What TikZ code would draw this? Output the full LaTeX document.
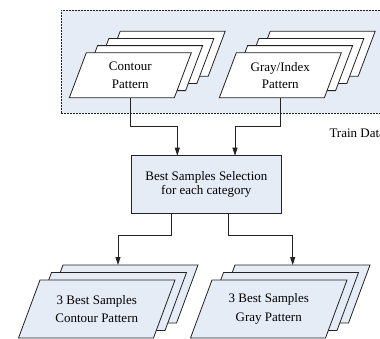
\documentclass[tikz,border=0pt]{standalone}
\usepackage{fontspec}
\setmainfont{Liberation Serif}
\usetikzlibrary{arrows.meta}
\definecolor{paleblue}{HTML}{E6ECF6}
\definecolor{linegray}{HTML}{222222}
\tikzset{
 paraline/.style={draw=linegray, line width=0.8pt},
 paratext/.style={inner sep=0pt, outer sep=0pt, align=center},
 topfont/.style={font=\fontsize{13}{17.5}\selectfont},
 botfont/.style={font=\fontsize{13}{18.5}\selectfont},
 selbox/.style={draw=linegray, line width=0.8pt, fill=paleblue, minimum width=150.7pt, minimum height=57.6pt, inner sep=0pt, outer sep=0pt, align=center, font=\fontsize{13}{14.5}\selectfont},
 arr/.style={draw=linegray, line width=0.8pt, -{Triangle[length=8pt,width=5pt]}},
 trainbox/.style={draw=linegray, dash pattern=on 2pt off 1pt, line width=0.7pt, fill=paleblue, minimum width=330pt, minimum height=103pt, inner sep=0pt, outer sep=0pt}
}
% #1 name, #2 x, #3 y, #4 top width, #5 height, #6 skew, #7 fill, #8 font style, #9 text
\newcommand\myparal[9]{%
 \filldraw[paraline, fill=#7] ({#2-#4/2-#6/2},{#3+#5/2}) -- ({#2+#4/2-#6/2},{#3+#5/2}) -- ({#2+#4/2+#6/2},{#3-#5/2}) -- ({#2-#4/2+#6/2},{#3-#5/2}) -- cycle;
 \node[paratext, #8, minimum width=#4pt, minimum height=#5pt] (#1) at (#2,#3) {#9};
}
\begin{document}
\begin{tikzpicture}[x=1pt,y=-1pt]
\useasboundingbox (0,0) rectangle (380,338);
\clip (0,0) rectangle (380,338);
\node[trainbox, anchor=north west] (train) at (61,10) {};
% contour stack
\myparal{c4}{164.2}{53.7}{105}{45}{17}{white}{topfont}{}
\myparal{c3}{152.9}{60.9}{105}{45}{17}{white}{topfont}{}
\myparal{c2}{141.6}{68.1}{105}{45}{17}{white}{topfont}{}
\myparal{c1}{130.3}{75.3}{105}{45}{17}{white}{topfont}{Contour\\Pattern}
% gray stack
\myparal{g4}{314.2}{53.7}{105}{45}{17}{white}{topfont}{}
\myparal{g3}{302.9}{60.9}{105}{45}{17}{white}{topfont}{}
\myparal{g2}{291.6}{68.1}{105}{45}{17}{white}{topfont}{}
\myparal{g1}{280.3}{75.3}{105}{45}{17}{white}{topfont}{Gray/Index\\Pattern}
\node[anchor=base west, font=\fontsize{13}{15}\selectfont, inner sep=0pt] (tl) at (329.3,137.3) {Train Data};
% selection box
\node[selbox] (box) at (206.35,184.5) {Best Samples Selection\\for each category};
% bottom stacks
\myparal{l3}{119.75}{294}{135}{58}{21.5}{paleblue}{botfont}{}
\myparal{l2}{108.25}{301.5}{135}{58}{21.5}{paleblue}{botfont}{}
\myparal{l1}{96.75}{309}{135}{58}{21.5}{paleblue}{botfont}{3 Best Samples\\Contour Pattern}
\myparal{r3}{291.75}{294}{135}{58}{21.5}{paleblue}{botfont}{}
\myparal{r2}{280.25}{301.5}{135}{58}{21.5}{paleblue}{botfont}{}
\myparal{r1}{268.75}{309}{135}{58}{21.5}{paleblue}{botfont}{3 Best Samples\\Gray Pattern}
% connectors
\coordinate (j1) at (177.3,126.7);
\coordinate (j2) at (235,126.7);
\draw[arr] (c1.south) |- (j1) -- (j1 |- box.north);
\draw[arr] (g1.south) |- (j2) -- (j2 |- box.north);
\coordinate (k1) at (171.7,235);
\coordinate (k2) at (228.3,235);
\coordinate (xl) at (118,0);
\coordinate (xr) at (292.7,0);
\draw[arr] (k1 |- box.south) -- (k1) -| (xl |- l3.north);
\draw[arr] (k2 |- box.south) -- (k2) -| (xr |- r3.north);
\end{tikzpicture}
\end{document}
